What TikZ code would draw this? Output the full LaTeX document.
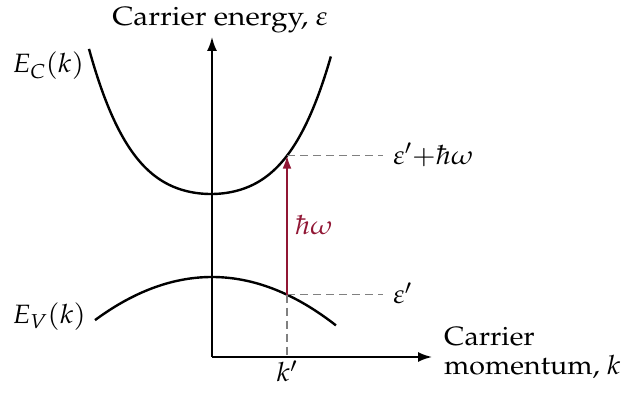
\documentclass[tikz,border=0pt]{standalone}
\usepackage[T1]{fontenc}
\usepackage{mathpazo}
\usetikzlibrary{arrows.meta}
\definecolor{photon}{RGB}{145,22,52}
\begin{document}
\begin{tikzpicture}[x=1pt,y=1pt,
  axis/.style={line width=1.8pt,-{Latex[length=14pt,width=10pt]}},
  band/.style={line width=2.4pt,black},
  guide/.style={gray,line width=1.5pt,dash pattern=on 8pt off 5pt},
  lbl/.style={inner sep=0pt,font=\fontsize{26.5}{30}\selectfont,xscale=1.08}]
\useasboundingbox (0,0) rectangle (641,394);
% axes
\coordinate (O) at (212,37);
\coordinate (Ytop) at (212,357);
\coordinate (Xend) at (432,37);
\draw[axis] (O) -- (Ytop);
\draw[axis] (O) -- (Xend);
% bands
\draw[band] plot[domain=-1.22:1.2,samples=120] ({211+100*\x},{200+46.5*\x*\x+34.25*\x*\x*\x*\x});
\draw[band] plot[domain=-1.17:1.24,samples=120] ({212+100*\x},{117-31.5*\x*\x});
% transition points
\coordinate (Pc) at (287,238.3);
\coordinate (Pv) at (287,99.3);
\coordinate (Pk) at (287,37);
\coordinate (Dc) at (383,238.3);
\coordinate (Dv) at (383,99.3);
\draw[guide] (Pc) -- (Dc);
\draw[guide] (Pv) -- (Dv);
\draw[guide] (Pv) -- (Pk);
\draw[photon,line width=2pt,-{Latex[length=13pt,width=9pt]}] (Pv) -- (Pc);
% labels
\node[lbl,anchor=base,xscale=1.04] (ylab) at (220,368) {Carrier energy, $\varepsilon$};
\node[lbl,anchor=base west] (ec) at (12,321) {$E_C(k)$};
\node[lbl,anchor=base west] (ev) at (12,70) {$E_V(k)$};
\node[lbl,anchor=base west] (epsc) at (393,229.7) {$\varepsilon'{+}\hbar\omega$};
\node[lbl,anchor=base west] (epsv) at (393,90) {$\varepsilon'$};
\node[lbl,anchor=base west,text=photon] (hw) at (295,159) {$\hbar\omega$};
\node[lbl,anchor=base] (kp) at (287,12.3) {$k'$};
\node[lbl,anchor=base west] (xl1) at (444,48) {Carrier};
\node[lbl,anchor=base west] (xl2) at (444,19) {momentum, $k$};
\end{tikzpicture}
\end{document}
